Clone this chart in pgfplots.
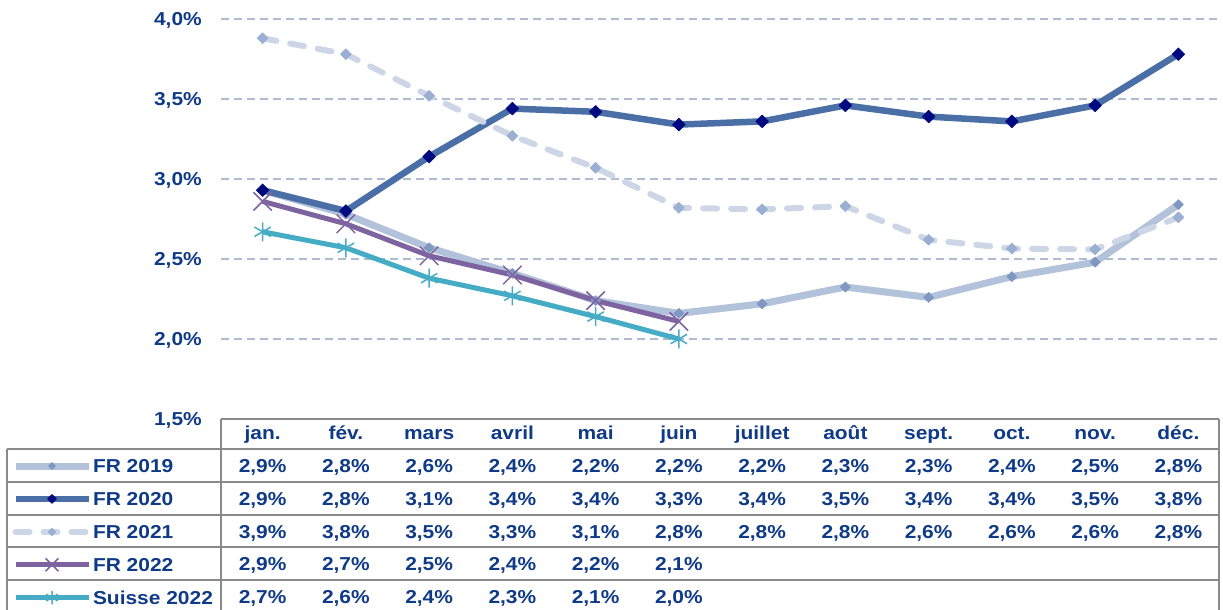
\documentclass[border=0pt]{standalone}
\usepackage{fontspec}
\setmainfont{Liberation Sans}[FakeStretch=1.12]
\usepackage{pgfplots}
\pgfplotsset{compat=1.18}
\definecolor{txt}{HTML}{0F3A87}
\definecolor{gridc}{HTML}{AEBBD4}
\definecolor{tline}{HTML}{8A8A8A}
\definecolor{c19}{HTML}{B3C2DB}
\definecolor{c19m}{HTML}{7F98C2}
\definecolor{c20}{HTML}{4A6FA6}
\definecolor{c20m}{HTML}{000A80}
\definecolor{c21}{HTML}{CCD6E6}
\definecolor{c21m}{HTML}{9AAFD1}
\definecolor{c22}{HTML}{7E63A1}
\definecolor{csu}{HTML}{46ABC5}
\newcommand{\tf}{\bfseries\fontsize{18.7}{18.7}\selectfont}
\tikzset{cellst/.style={font=\tf, text=txt, inner sep=0pt, text height=13.4pt, text depth=0pt, anchor=center}}
\begin{document}
\begin{tikzpicture}
\useasboundingbox (0,0) rectangle (1223pt,610pt);
\begin{axis}[
  at={(221pt,191pt)}, anchor=south west,
  scale only axis, width=999pt, height=400pt,
  xmin=-0.5, xmax=11.5, ymin=1.5, ymax=4.0,
  axis line style={draw=none},
  xtick=\empty,
  ytick={1.5,2.0,2.5,3.0,3.5,4.0},
  yticklabels={{1,5\%},{2,0\%},{2,5\%},{3,0\%},{3,5\%},{4,0\%}},
  major tick length=0pt,
  yticklabel style={font=\tf, text=txt, inner sep=0pt, anchor=east, xshift=-19pt, text height=13.4pt, text depth=0pt},
  ymajorgrids, grid style={gridc, line width=2pt, dash pattern=on 8pt off 5pt},
  clip=false,
  legend cell align=left,
  legend image code/.code={
    \draw[#1, every mark/.append style={scale=0.7}, mark repeat=2, mark phase=2] plot coordinates {(0pt,0pt) (36.5pt,0pt) (73pt,0pt)};
  },
  legend style={at={(-0.2092,-0.10075)}, anchor=north west, draw=none, fill=none,
    inner sep=0pt, outer sep=0pt, row sep=19.5pt,
    nodes={font=\tf, text=txt, inner sep=0pt, text height=13.4pt, text depth=0pt},
    /tikz/every odd column/.append style={column sep=1pt}},
]
\addplot[c19, line width=7pt, line join=round, mark=square*, mark size=3.6pt,
  mark options={rotate=45, fill=c19m, draw=c19m, line width=0.5pt}]
  coordinates {(0,2.93) (1,2.78) (2,2.57) (3,2.41) (4,2.24) (5,2.16) (6,2.22) (7,2.325) (8,2.26) (9,2.39) (10,2.48) (11,2.84)};
\addlegendentry{FR 2019}
\addplot[c20, line width=6.5pt, line join=round, mark=square*, mark size=4.4pt,
  mark options={rotate=45, fill=c20m, draw=c20m, line width=0.8pt}]
  coordinates {(0,2.93) (1,2.80) (2,3.14) (3,3.44) (4,3.42) (5,3.34) (6,3.36) (7,3.46) (8,3.39) (9,3.36) (10,3.46) (11,3.78)};
\addlegendentry{FR 2020}
\addplot[c21, line width=6pt, line join=round, line cap=round, dash pattern=on 14pt off 14pt,
  mark=square*, mark size=3.9pt, mark options={solid, rotate=45, fill=c21m, draw=c21m, line width=0.5pt}]
  coordinates {(0,3.88) (1,3.78) (2,3.52) (3,3.27) (4,3.07) (5,2.82) (6,2.81) (7,2.83) (8,2.62) (9,2.565) (10,2.56) (11,2.76)};
\addlegendentry{FR 2021}
\addplot[c22, line width=5pt, line join=round, mark=x, mark size=13pt, mark options={line width=1.5pt}]
  coordinates {(0,2.86) (1,2.72) (2,2.52) (3,2.40) (4,2.24) (5,2.11)};
\addlegendentry{FR 2022}
\addplot[csu, line width=5pt, line join=round, mark=asterisk, mark size=9.5pt, mark options={line width=1.5pt}]
  coordinates {(0,2.67) (1,2.57) (2,2.38) (3,2.27) (4,2.14) (5,2.00)};
\addlegendentry{Suisse 2022}
\end{axis}
% data table
\draw[tline, line width=2pt] (221pt,191pt) -- (1219pt,191pt);
\foreach \y in {161,128,95,63,30} \draw[tline, line width=2pt] (7pt,\y pt) -- (1219pt,\y pt);
\draw[tline, line width=2pt] (221pt,191pt) -- (221pt,0pt);
\draw[tline, line width=2pt] (1219pt,191pt) -- (1219pt,0pt);
\draw[tline, line width=2pt] (7pt,161pt) -- (7pt,0pt);
\foreach \v [count=\i from 0] in {jan.,fév.,mars,avril,mai,juin,juillet,août,sept.,oct.,nov.,déc.}
  \node[cellst] at ({221pt+83.25pt*(\i+0.5)},176.7pt) {\v};
\foreach \v [count=\i from 0] in {{2,9\%},{2,8\%},{2,6\%},{2,4\%},{2,2\%},{2,2\%},{2,2\%},{2,3\%},{2,3\%},{2,4\%},{2,5\%},{2,8\%}}
  \node[cellst] at ({221pt+83.25pt*(\i+0.5)},144pt) {\v};
\foreach \v [count=\i from 0] in {{2,9\%},{2,8\%},{3,1\%},{3,4\%},{3,4\%},{3,3\%},{3,4\%},{3,5\%},{3,4\%},{3,4\%},{3,5\%},{3,8\%}}
  \node[cellst] at ({221pt+83.25pt*(\i+0.5)},111pt) {\v};
\foreach \v [count=\i from 0] in {{3,9\%},{3,8\%},{3,5\%},{3,3\%},{3,1\%},{2,8\%},{2,8\%},{2,8\%},{2,6\%},{2,6\%},{2,6\%},{2,8\%}}
  \node[cellst] at ({221pt+83.25pt*(\i+0.5)},78.5pt) {\v};
\foreach \v [count=\i from 0] in {{2,9\%},{2,7\%},{2,5\%},{2,4\%},{2,2\%},{2,1\%}}
  \node[cellst] at ({221pt+83.25pt*(\i+0.5)},46pt) {\v};
\foreach \v [count=\i from 0] in {{2,7\%},{2,6\%},{2,4\%},{2,3\%},{2,1\%},{2,0\%}}
  \node[cellst] at ({221pt+83.25pt*(\i+0.5)},13pt) {\v};
\end{tikzpicture}
\end{document}
